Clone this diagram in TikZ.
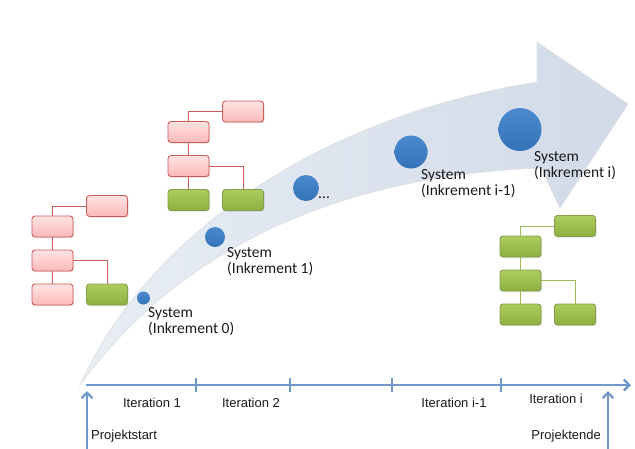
\documentclass[tikz,border=0pt]{standalone}
\usepackage{fontspec}
\setmainfont{Carlito}
\newfontfamily\arialfont{Liberation Sans}
\usetikzlibrary{arrows.meta,shadows}

\definecolor{flowblue}{HTML}{D1DAE8}
\definecolor{flowtail}{HTML}{E9EEF5}
\definecolor{axisblue}{HTML}{6F97C9}
\definecolor{dotblue}{HTML}{3573B8}
\definecolor{dotlight}{HTML}{4A8ACF}
\definecolor{redtop}{HTML}{FFE3E3}
\definecolor{redbottom}{HTML}{FBB9B9}
\definecolor{redline}{HTML}{CD5B58}
\definecolor{greentop}{HTML}{ADCC5E}
\definecolor{greenbottom}{HTML}{8DB03F}
\definecolor{greenline}{HTML}{9BBB59}

\tikzset{
  box/.style={rounded corners=3pt, minimum width=41pt, minimum height=21pt,
    inner sep=0pt, line width=0.9pt,
    drop shadow={opacity=0.25, shadow xshift=1pt, shadow yshift=-1.2pt}},
  redbox/.style={box, draw=redline, top color=redtop, bottom color=redbottom},
  greenbox/.style={box, draw=greenline!85!black, top color=greentop, bottom color=greenbottom},
  redlink/.style={draw=redline, line width=0.9pt},
  greenlink/.style={draw=greenline, line width=0.9pt},
  sysdot/.style={circle, inner sep=0pt, top color=dotlight, bottom color=dotblue},
  syslabel/.style={anchor=north west, align=left, inner sep=0pt, text=black!90,
    font=\fontsize{15.5}{16.7}\selectfont},
  axis/.style={draw=axisblue, line width=2.4pt},
  itlabel/.style={font=\arialfont\fontsize{13}{15}\selectfont, text=black!90}
}

\begin{document}
\begin{tikzpicture}[x=1pt, y=-1pt]
    \useasboundingbox (0,0) rectangle (635,448);

    % big curved arrow in the background
    \shade[left color=flowtail, right color=flowblue, draw=black!12, line width=0.6pt]
      (80,385) .. controls (140,250) and (300,120) .. (537,82)
      -- (537,42) -- (628,104) -- (560,208) -- (541,168)
      .. controls (360,175) and (190,235) .. cycle;

    % left tree (increment 0)
    \node[redbox] (l1) at (52.5,226.5) {};
    \node[redbox] (l2) at (52.5,260.5) {};
    \node[redbox] (l3) at (52.5,294.5) {};
    \node[redbox] (l4) at (107,206) {};
    \node[greenbox] (l5) at (107,294.5) {};
    \draw[redlink] (l1.north) |- (l4.west);
    \draw[redlink] (l1) -- (l2);
    \draw[redlink] (l2) -- (l3);
    \draw[redlink] (l2.east) -| (l5.north);

    % middle tree (increment 1)
    \node[redbox] (m1) at (188.5,132) {};
    \node[redbox] (m2) at (188.5,166) {};
    \node[greenbox] (m3) at (188.5,200) {};
    \node[redbox] (m4) at (243,111.5) {};
    \node[greenbox] (m5) at (243,200) {};
    \draw[redlink] (m1.north) |- (m4.west);
    \draw[redlink] (m1) -- (m2);
    \draw[redlink] (m2) -- (m3);
    \draw[redlink] (m2.east) -| (m5.north);

    % right tree (increment i)
    \node[greenbox] (r1) at (520.5,246.5) {};
    \node[greenbox] (r2) at (520.5,280.5) {};
    \node[greenbox] (r3) at (520.5,314.5) {};
    \node[greenbox] (r4) at (575,226) {};
    \node[greenbox] (r5) at (575,314.5) {};
    \draw[greenlink] (r1.north) |- (r4.west);
    \draw[greenlink] (r1) -- (r2);
    \draw[greenlink] (r2) -- (r3);
    \draw[greenlink] (r2.east) -| (r5.north);

    % systems growing along the arrow
    \node[sysdot, minimum size=13pt] (s0) at (143.5,298) {};
    \node[sysdot, minimum size=20pt] (s1) at (215,237) {};
    \node[sysdot, minimum size=26pt] (s2) at (306,188) {};
    \node[sysdot, minimum size=33pt] (s3) at (411,152) {};
    \node[sysdot, minimum size=43pt] (s4) at (520,129.5) {};

    \node[syslabel] (t0) at (148,307) {System\\(Inkrement 0)};
    \node[syslabel] (t1) at (227,247) {System\\(Inkrement 1)};
    \node[syslabel] (t2) at (318,197) {...};
    \node[syslabel] (t3) at (421,169) {System\\(Inkrement i-1)};
    \node[syslabel] (t4) at (534,151) {System\\(Inkrement i)};

    % time axis
    \coordinate (a0) at (86,385);
    \coordinate (a1) at (631,385);
    \draw[axis, -{Straight Barb[length=5.5pt, width=11pt]}] (a0) -- (a1);
    \foreach \x in {196,290,392,501}
      \draw[axis, line width=1.6pt] (\x,378) -- (\x,392);

    \node[itlabel] (i1) at (152,403) {Iteration 1};
    \node[itlabel] (i2) at (251,403) {Iteration 2};
    \node[itlabel] (i3) at (454,403) {Iteration i-1};
    \node[itlabel] (i4) at (556,399) {Iteration i};

    % project start and end
    \coordinate (p0) at (87,449);
    \coordinate (p1) at (87,391);
    \coordinate (q0) at (608,449);
    \coordinate (q1) at (608,391);
    \draw[axis, -{Straight Barb[length=5.5pt, width=11pt]}] (p0) -- (p1);
    \draw[axis, -{Straight Barb[length=5.5pt, width=11pt]}] (q0) -- (q1);
    \node[itlabel, anchor=west, inner sep=0pt] (ps) at (91,436) {Projektstart};
    \node[itlabel, anchor=east, inner sep=0pt] (pe) at (601,436) {Projektende};
\end{tikzpicture}
\end{document}
